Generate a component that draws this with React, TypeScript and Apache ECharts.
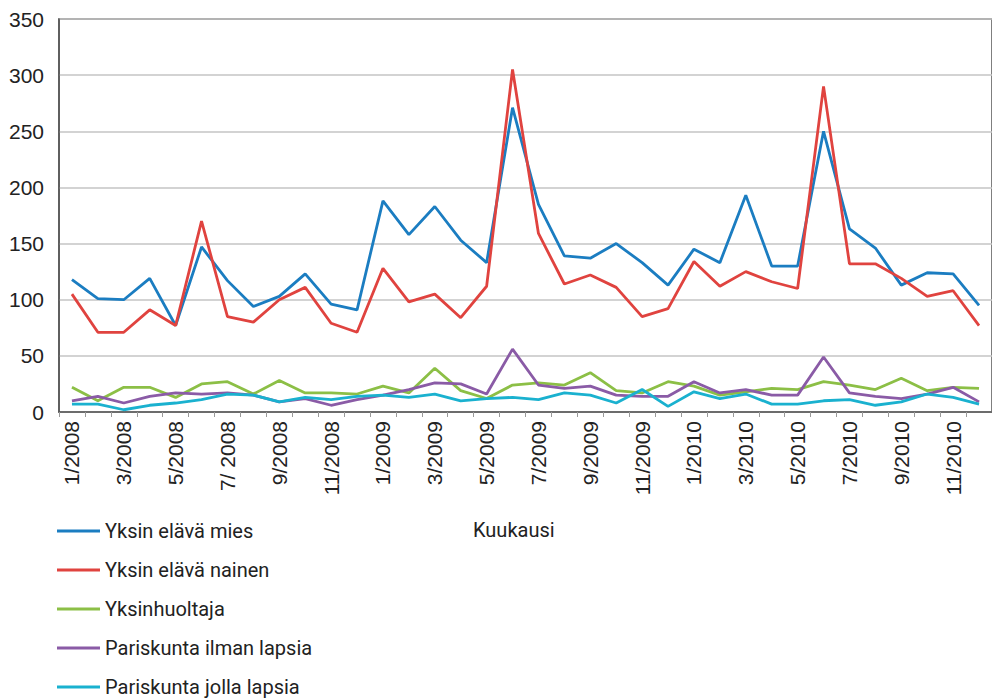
import React, { useEffect, useRef } from "react";
import * as echarts from "echarts";

const categories = [
  "1/2008", "2/2008", "3/2008", "4/2008", "5/2008", "6/2008", "7/ 2008", "8/2008", "9/2008", "10/2008", "11/2008", "12/2008",
  "1/2009", "2/2009", "3/2009", "4/2009", "5/2009", "6/2009", "7/2009", "8/2009", "9/2009", "10/2009", "11/2009", "12/2009",
  "1/2010", "2/2010", "3/2010", "4/2010", "5/2010", "6/2010", "7/2010", "8/2010", "9/2010", "10/2010", "11/2010", "12/2010",
];

const yksinMies = [118, 101, 100, 119, 77, 147, 117, 94, 103, 123, 96, 91, 188, 158, 183, 153, 133, 271, 185, 139, 137, 150, 133, 113, 145, 133, 193, 130, 130, 250, 163, 146, 113, 124, 123, 95];
const yksinNainen = [105, 71, 71, 91, 77, 170, 85, 80, 100, 111, 79, 71, 128, 98, 105, 84, 112, 305, 159, 114, 122, 111, 85, 92, 134, 112, 125, 116, 110, 290, 132, 132, 119, 103, 108, 77];
const yksinhuoltaja = [22, 10, 22, 22, 13, 25, 27, 16, 28, 17, 17, 16, 23, 17, 39, 19, 12, 24, 26, 24, 35, 19, 17, 27, 23, 15, 18, 21, 20, 27, 24, 20, 30, 19, 22, 21];
const ilmanLapsia = [10, 14, 8, 14, 17, 16, 17, 15, 9, 12, 6, 11, 15, 20, 26, 25, 16, 56, 24, 21, 23, 15, 14, 14, 27, 17, 20, 15, 15, 49, 17, 14, 12, 16, 22, 9];
const jollaLapsia = [7, 7, 2, 6, 8, 11, 16, 15, 9, 13, 11, 14, 15, 13, 16, 10, 12, 13, 11, 17, 15, 8, 20, 5, 18, 12, 16, 7, 7, 10, 11, 6, 9, 16, 13, 7];

const seriesNames = ["Yksin elävä mies", "Yksin elävä nainen", "Yksinhuoltaja", "Pariskunta ilman lapsia", "Pariskunta jolla lapsia"];
const seriesColors = ["#1b7dc1", "#e0433f", "#8cbf46", "#8a5ba6", "#1ab1cf"];
const yTicks = [0, 50, 100, 150, 200, 250, 300, 350];

const NARROW = "Roboto, 'Liberation Sans', sans-serif";
const REGULAR = "'Liberation Sans', Arial, sans-serif";

export default function App() {
  const ref = useRef<HTMLDivElement>(null);
  useEffect(() => {
    if (!ref.current) return;
    const chart = echarts.init(ref.current, undefined, { renderer: "svg" });
    const values = [yksinMies, yksinNainen, yksinhuoltaja, ilmanLapsia, jollaLapsia];
    chart.setOption({
      animation: false,
      backgroundColor: "#ffffff",
      grid: {
        left: 59,
        top: 19,
        width: 943,
        height: 393,
        show: true,
        borderColor: "#555555",
        borderWidth: 1.5,
        containLabel: false,
      },
      xAxis: {
        type: "category",
        data: categories,
        boundaryGap: true,
        axisLine: { show: true, lineStyle: { color: "#555555", width: 1.5 } },
        axisTick: { show: true, interval: 0, length: 5, lineStyle: { color: "#999999" } },
        axisLabel: {
          interval: 1,
          rotate: 90,
          margin: 9,
          fontSize: 21,
          fontFamily: REGULAR,
          color: "#222222",
        },
        splitLine: { show: false },
      },
      yAxis: {
        type: "value",
        min: yTicks[0],
        max: yTicks[yTicks.length - 1],
        interval: 50,
        axisLine: { show: true, lineStyle: { color: "#555555", width: 1.5 } },
        axisTick: { show: false },
        axisLabel: { fontSize: 21, fontFamily: REGULAR, color: "#222222", margin: 15 },
        splitLine: { show: true, lineStyle: { color: "#c4c4c4", width: 1.5 } },
      },
      legend: {
        orient: "vertical",
        left: 57,
        top: 519,
        height: 200,
        padding: 0,
        itemWidth: 43,
        itemHeight: 14,
        itemGap: 15,
        icon: "path://M0,6 L43,6 L43,9 L0,9 Z",
        data: seriesNames,
        textStyle: { fontSize: 20, fontFamily: NARROW, color: "#222222", lineHeight: 24 },
      },
      graphic: [
        {
          type: "text",
          left: 473,
          top: 520,
          style: { text: "Kuukausi", font: `20px ${NARROW}`, fill: "#222222" },
        },
      ],
      series: seriesNames.map((name, i) => ({
        name,
        type: "line",
        data: values[i],
        symbol: "none",
        showSymbol: false,
        color: seriesColors[i],
        lineStyle: { color: seriesColors[i], width: 2.8 },
        itemStyle: { color: seriesColors[i] },
      })),
    });
    return () => chart.dispose();
  }, []);
  return (
    <div
      ref={ref}
      style={{ position: "fixed", left: 0, top: 0, width: 992, height: 699, background: "#fff" }}
    />
  );
}
